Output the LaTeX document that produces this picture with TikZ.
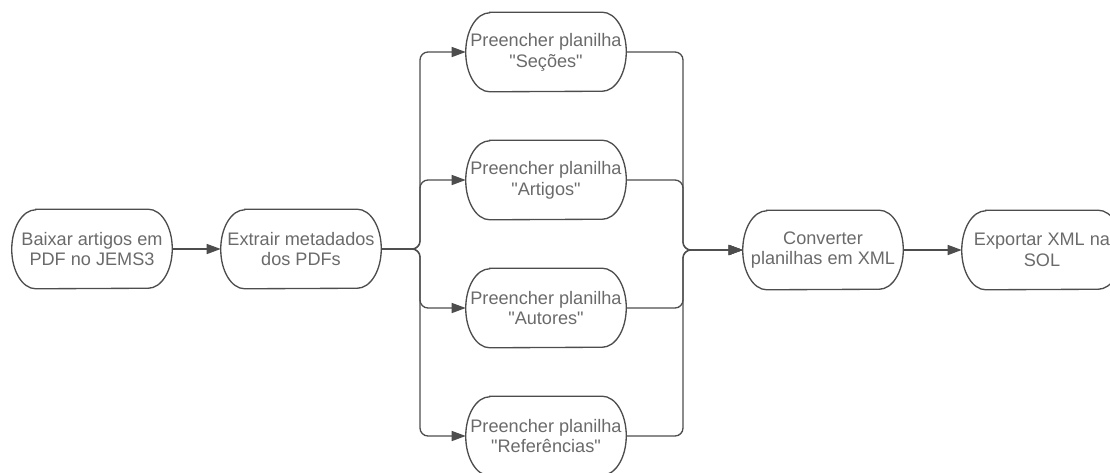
\documentclass[tikz,border=0pt]{standalone}
\usepackage{fontspec}
\setmainfont{Liberation Sans}
\usetikzlibrary{arrows.meta}
\definecolor{linegray}{HTML}{4D4D4D}
\definecolor{textgray}{HTML}{6A6A6A}
\begin{document}
\begin{tikzpicture}[x=0.75pt,y=0.75pt,
  terminal/.style={minimum width=120pt,minimum height=59.25pt,inner sep=0pt,align=center,text=textgray,font=\fontsize{13.6pt}{15.6pt}\selectfont},
  outline/.style={draw=linegray,line width=1pt},
  flow/.style={draw=linegray,line width=1pt,rounded corners=6pt,-{Triangle[length=10.5pt,width=7.5pt]}}]
\useasboundingbox (0,0) rectangle (1110,-472);

\node[terminal] (baixar) at (92,-249) {Baixar artigos em\\PDF no JEMS3};
\node[terminal] (extrair) at (301,-249) {Extrair metadados\\dos PDFs};
\node[terminal] (secoes) at (546,-52) {Preencher planilha\\\textquotedbl Seções\textquotedbl};
\node[terminal] (artigos) at (546,-180) {Preencher planilha\\\textquotedbl Artigos\textquotedbl};
\node[terminal] (autores) at (546,-308) {Preencher planilha\\\textquotedbl Autores\textquotedbl};
\node[terminal] (referencias) at (546,-436) {Preencher planilha\\\textquotedbl Referências\textquotedbl};
\node[terminal] (converter) at (823,-250) {Converter\\planilhas em XML};
\node[terminal] (exportar) at (1042,-250) {Exportar XML na\\SOL};

\coordinate (fork) at (420,-249);
\coordinate (merge) at (683,-250);

% terminator outlines
\foreach \n in {baixar,extrair,secoes,artigos,autores,referencias,converter,exportar}
  \draw[outline] ([xshift=18pt]\n.north west) -- ([xshift=-18pt]\n.north east)
    arc[start angle=90,end angle=-90,x radius=18pt,y radius=29.625pt]
    -- ([xshift=18pt]\n.south west)
    arc[start angle=270,end angle=90,x radius=18pt,y radius=29.625pt] -- cycle;

\draw[flow] (baixar) -- (extrair);
\foreach \n in {secoes,artigos,autores,referencias}
  \draw[flow] (extrair.east) -- (fork) |- (\n.west);
\foreach \n in {secoes,artigos,autores,referencias}
  \draw[flow] (\n.east) -| (merge) -- (converter.west);
\draw[flow] (converter) -- (exportar);
\end{tikzpicture}
\end{document}
